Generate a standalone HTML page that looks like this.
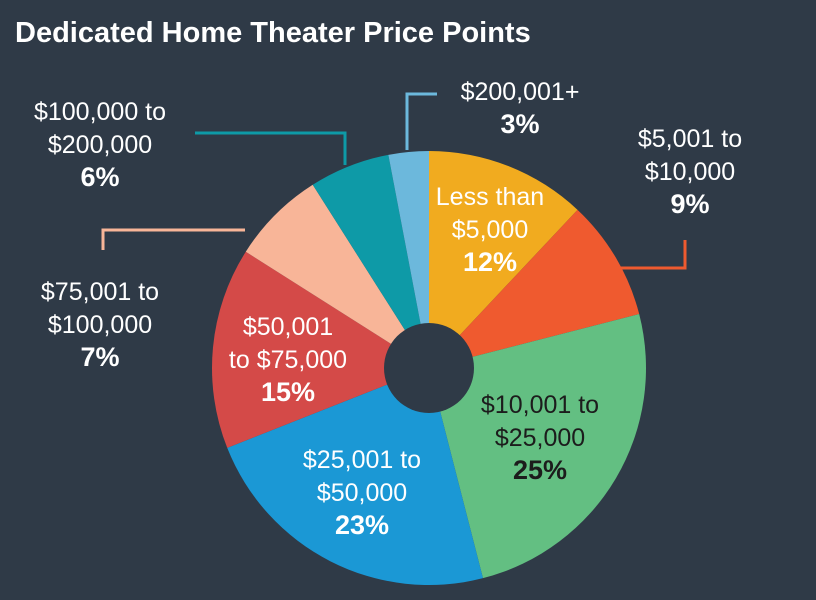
<!DOCTYPE html>
<html><head><meta charset="utf-8"><style>
body{margin:0;background:#2f3a47;}
svg{display:block;font-family:"Liberation Sans",sans-serif;}
</style></head><body>
<svg id="chart" width="816" height="600" viewBox="0 0 816 600">
<rect width="816" height="600" fill="#2f3a47"/>
<text x="15" y="42" fill="#fff" font-size="29" font-weight="bold">Dedicated Home Theater Price Points</text>
<g id="slices"></g>
<circle cx="429" cy="368" r="45" fill="#2f3a47"/>
<g fill="none" stroke-width="3">
<polyline points="407,150 407,94 437,94" stroke="#6cb8dc"/>
<polyline points="345,165 345,133 195,133" stroke="#0e9aa7"/>
<polyline points="245,230 103,230 103,250" stroke="#f8b598"/>
<polyline points="620,268 685,268 685,240" stroke="#ef5a2f"/>
</g>
<g id="labels" font-size="25" text-anchor="middle" fill="#fff"></g>
</svg>
<script>
const categories=["Less than $5,000","$5,001 to $10,000","$10,001 to $25,000","$25,001 to $50,000","$50,001 to $75,000","$75,001 to $100,000","$100,000 to $200,000","$200,001+"];
const values=[12,9,25,23,15,7,6,3];
const colors=["#f1ab1f","#ef5a2f","#63bf82","#1b98d5","#d44a48","#f8b598","#0e9aa7","#6cb8dc"];
const labelLines=[["Less than","$5,000"],["$5,001 to","$10,000"],["$10,001 to","$25,000"],["$25,001 to","$50,000"],["$50,001","to $75,000"],["$75,001 to","$100,000"],["$100,000 to","$200,000"],["$200,001+"]];
const labelPos=[[490,205],[690,147],[540,413],[362,468],[288,335],[100,300],[100,120],[520,100]];
const cx=429,cy=368,r=217;
const NS="http://www.w3.org/2000/svg";
const g=document.getElementById("slices");
const total=values.reduce((a,b)=>a+b,0);
let a0=0;
values.forEach((v,i)=>{
  const a1=a0+v/total*2*Math.PI;
  const x0=cx+r*Math.sin(a0),y0=cy-r*Math.cos(a0),x1=cx+r*Math.sin(a1),y1=cy-r*Math.cos(a1);
  const p=document.createElementNS(NS,"path");
  p.setAttribute("d",`M${cx},${cy}L${x0},${y0}A${r},${r} 0 ${a1-a0>Math.PI?1:0} 1 ${x1},${y1}Z`);
  p.setAttribute("fill",colors[i]);
  
  
  g.appendChild(p);
  a0=a1;
});
const lg=document.getElementById("labels");
values.forEach((v,i)=>{
  const t=document.createElementNS(NS,"text");
  
  
  const [x,y]=labelPos[i];
  const lines=labelLines[i];
  lines.forEach((s,k)=>{
    const ts=document.createElementNS(NS,"tspan");
    ts.setAttribute("x",x);ts.setAttribute("y",y+k*33);ts.textContent=s;t.appendChild(ts);
  });
  const ps=document.createElementNS(NS,"tspan");
  ps.setAttribute("x",x);ps.setAttribute("y",y+lines.length*33);
  ps.setAttribute("font-weight","bold");ps.setAttribute("font-size","27");
  ps.textContent=v+"%";
  if(i===2){t.setAttribute("fill","#1c1c1c");}
  t.appendChild(ps);
  lg.appendChild(t);
});
</script>
</body></html>
